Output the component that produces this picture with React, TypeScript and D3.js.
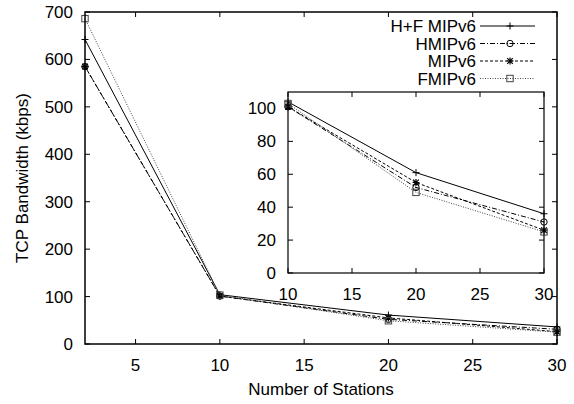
import React from "react";
import * as d3 from "d3";

const stations = [2, 10, 20, 30];
const hfMipv6 = [642, 104, 61, 36];
const hMipv6 = [585, 101, 52, 31];
const mipv6 = [585, 101, 55, 26];
const fMipv6 = [686, 103, 49, 25];

const seriesNames = ["H+F MIPv6", "HMIPv6", "MIPv6", "FMIPv6"];
const seriesValues = [hfMipv6, hMipv6, mipv6, fMipv6];

const mainXTicks = [5, 10, 15, 20, 25, 30];
const mainYTicks = [0, 100, 200, 300, 400, 500, 600, 700];
const insetXTicks = [10, 15, 20, 25, 30];
const insetYTicks = [0, 20, 40, 60, 80, 100];

const styles = [
  { dash: "none", color: "#000", marker: "plus" },
  { dash: "5,2,1,2", color: "#000", marker: "circle" },
  { dash: "3,2", color: "#000", marker: "star" },
  { dash: "1,1.5", color: "#444", marker: "square" },
];

const FONT = "'Liberation Sans', Arial, Helvetica, sans-serif";
const FS = 17;

function Marker({ type, x, y, color }: { type: string; x: number; y: number; color: string }) {
  const s = 3.5;
  if (type === "plus")
    return (
      <path d={`M${x - s},${y}H${x + s}M${x},${y - s}V${y + s}`} stroke={color} strokeWidth={1} fill="none" />
    );
  if (type === "circle")
    return (
      <g>
        <circle cx={x} cy={y} r={3.2} stroke={color} strokeWidth={1} fill="none" />
        <circle cx={x} cy={y} r={0.6} fill={color} />
      </g>
    );
  if (type === "star")
    return (
      <path
        d={`M${x - s},${y}H${x + s}M${x},${y - s}V${y + s}M${x - s * 0.8},${y - s * 0.8}L${x + s * 0.8},${y + s * 0.8}M${x - s * 0.8},${y + s * 0.8}L${x + s * 0.8},${y - s * 0.8}`}
        stroke={color}
        strokeWidth={1.2}
        fill="none"
      />
    );
  return <rect x={x - 3.2} y={y - 3.2} width={6.4} height={6.4} stroke={color} strokeWidth={1} fill="none" />;
}

function Frame({
  x,
  y,
  xTicks,
  yTicks,
  sw,
}: {
  x: d3.ScaleLinear<number, number>;
  y: d3.ScaleLinear<number, number>;
  xTicks: number[];
  yTicks: number[];
  sw: number;
}) {
  const [x0, x1] = x.range();
  const [y0, y1] = y.range();
  const tl = 5;
  return (
    <g>
      <rect x={x0} y={y1} width={x1 - x0} height={y0 - y1} fill="none" stroke="#000" strokeWidth={sw} />
      {xTicks.map((t) => (
        <g key={"x" + t}>
          <line x1={x(t)} x2={x(t)} y1={y0} y2={y0 - tl} stroke="#000" strokeWidth={1} />
          <line x1={x(t)} x2={x(t)} y1={y1} y2={y1 + tl} stroke="#000" strokeWidth={1} />
          <text x={x(t)} y={y0 + 26.5} textAnchor="middle" fontSize={FS} fontFamily={FONT}>
            {t}
          </text>
        </g>
      ))}
      {yTicks.map((t) => (
        <g key={"y" + t}>
          <line x1={x0} x2={x0 + tl} y1={y(t)} y2={y(t)} stroke="#000" strokeWidth={1} />
          <line x1={x1} x2={x1 - tl} y1={y(t)} y2={y(t)} stroke="#000" strokeWidth={1} />
          <text x={x0 - 12} y={y(t) + 6} textAnchor="end" fontSize={FS} fontFamily={FONT}>
            {t}
          </text>
        </g>
      ))}
    </g>
  );
}

function Series({
  x,
  y,
  xs,
  ys,
}: {
  x: d3.ScaleLinear<number, number>;
  y: d3.ScaleLinear<number, number>;
  xs: number[];
  ys: number[][];
}) {
  return (
    <g>
      {ys.map((vals, i) => {
        const pts = xs.map((xv, j) => [xv, vals[j]] as [number, number]).filter((p) => p[0] >= x.domain()[0]);
        const line = d3
          .line<[number, number]>()
          .x((d) => x(d[0]))
          .y((d) => y(d[1]));
        return (
          <g key={i}>
            <path d={line(pts) || ""} fill="none" stroke={styles[i].color} strokeWidth={1} strokeDasharray={styles[i].dash} />
            {pts.map((p, k) => (
              <Marker key={k} type={styles[i].marker} x={x(p[0])} y={y(p[1])} color={styles[i].color} />
            ))}
          </g>
        );
      })}
    </g>
  );
}

export default function App() {
  const x = d3.scaleLinear().domain([2, 30]).range([85, 557]);
  const y = d3.scaleLinear().domain([0, 700]).range([344, 12]);
  const ix = d3.scaleLinear().domain([10, 30]).range([288, 544]);
  const iy = d3.scaleLinear().domain([0, 110]).range([273, 92]);

  const legendRows = [26, 43.5, 61, 78.5];

  return (
    <svg
      width={574}
      height={404}
      style={{ position: "absolute", left: 0, top: 0, background: "#fff" }}
    >
      <rect width={574} height={404} fill="#fff" />
      <Series x={x} y={y} xs={stations} ys={seriesValues} />
      <Frame x={x} y={y} xTicks={mainXTicks} yTicks={mainYTicks} sw={1.5} />
      <text x={321} y={395} textAnchor="middle" fontSize={FS} fontFamily={FONT}>
        Number of Stations
      </text>
      <text
        transform={`translate(28,178) rotate(-90)`}
        textAnchor="middle"
        fontSize={FS}
        fontFamily={FONT}
      >
        TCP Bandwidth (kbps)
      </text>
      {seriesNames.map((name, i) => (
        <g key={name}>
          <text x={476} y={legendRows[i] + 6} textAnchor="end" fontSize={FS} fontFamily={FONT}>
            {name}
          </text>
          <line
            x1={480}
            x2={535}
            y1={legendRows[i]}
            y2={legendRows[i]}
            stroke={styles[i].color}
            strokeWidth={1}
            strokeDasharray={styles[i].dash}
          />
          <Marker type={styles[i].marker} x={510} y={legendRows[i]} color={styles[i].color} />
        </g>
      ))}
      <Series x={ix} y={iy} xs={stations} ys={seriesValues} />
      <Frame x={ix} y={iy} xTicks={insetXTicks} yTicks={insetYTicks} sw={1.2} />
    </svg>
  );
}
